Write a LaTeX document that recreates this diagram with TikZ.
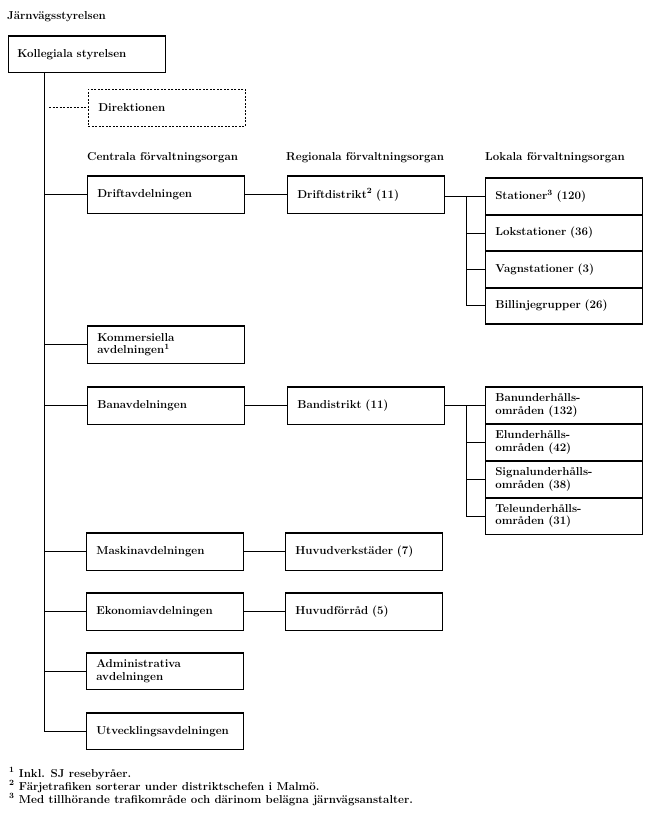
\documentclass[tikz,border=0pt]{standalone}
\usetikzlibrary{calc}
\begin{document}
\begin{tikzpicture}[x=1pt,y=-1pt,
  every node/.style={font=\fontsize{11.5}{12.5}\selectfont\bfseries},
  box/.style={draw, line width=0.6pt, anchor=north west, text width=137pt, inner xsep=10pt, inner ysep=2pt, minimum height=37pt, align=left},
  dbox/.style={box, dashed, dash pattern=on 2pt off 1.5pt},
  lbox/.style={draw, line width=0.6pt, anchor=north west, text width=137pt, inner xsep=10pt, inner ysep=1pt, align=left},
  conn/.style={line width=0.7pt},
  thickedge/.style={line width=1.3pt},
  hdr/.style={anchor=base west, inner sep=0pt},
  fn/.style={anchor=base west, inner sep=0pt}]
\useasboundingbox (0,0) rectangle (650,816);
% title
\node[hdr] (title) at (7,20) {Järnvägsstyrelsen};
\node[box, text width=139pt, inner xsep=9pt, minimum height=36pt] (kol) at (8,36) {Kollegiala styrelsen};
\coordinate (trunk) at (44,72);
\node[dbox] (dir) at (88,89) {Direktionen};
% headers
\node[hdr] (h1) at (87,160) {Centrala förvaltningsorgan};
\node[hdr] (h2) at (286,160) {Regionala förvaltningsorgan};
\node[hdr] (h3) at (485,160) {Lokala förvaltningsorgan};
% central
\node[box] (drift) at (87,176) {Driftavdelningen};
\node[box] (kom) at (87,326) {Kommersiella\\avdelningen\textsuperscript{1}};
\node[box] (ban) at (87,387) {Banavdelningen};
\node[box] (mask) at (86,533) {Maskinavdelningen};
\node[box] (eko) at (86,593) {Ekonomiavdelningen};
\node[box, minimum height=36pt] (adm) at (86,653) {Administrativa\\avdelningen};
\node[box, minimum height=36pt] (utv) at (86,713) {Utvecklingsavdelningen};
% regional
\node[box] (dd) at (287,176) {Driftdistrikt\textsuperscript{2} (11)};
\node[box] (bd) at (287,387) {Bandistrikt (11)};
\node[box] (hv) at (285,533) {Huvudverkstäder (7)};
\node[box] (hf) at (285,593) {Huvudförråd (5)};
% local: drift
\node[lbox, minimum height=36.5pt] (s1) at (485,178) {Stationer\textsuperscript{3} (120)};
\node[lbox, minimum height=36.5pt] (s2) at (485,214.5) {Lokstationer (36)};
\node[lbox, minimum height=36.5pt] (s3) at (485,251) {Vagnstationer (3)};
\node[lbox, minimum height=36pt] (s4) at (485,287.5) {Billinjegrupper (26)};
% local: ban
\node[lbox, minimum height=36.75pt] (b1) at (485,387) {Banunderhålls-\\områden (132)};
\node[lbox, minimum height=36.75pt] (b2) at (485,423.75) {Elunderhålls-\\områden (42)};
\node[lbox, minimum height=36.75pt] (b3) at (485,460.5) {Signalunderhålls-\\områden (38)};
\node[lbox, minimum height=36.75pt] (b4) at (485,497.25) {Teleunderhålls-\\områden (31)};
% thick top/bottom edges
\foreach \n in {kol,drift,kom,ban,mask,eko,adm,utv,dd,bd,hv,hf,s1,s2,s3,s4,b1,b2,b3,b4}
  \draw[thickedge] (\n.north west) -- (\n.north east) (\n.south west) -- (\n.south east);
% trunk and connectors
\draw[conn] (trunk) -- (trunk |- utv.west);
\draw[conn, dashed, dash pattern=on 2pt off 1.5pt] ($(trunk |- dir.west)+(5,0)$) -- (dir.west);
\foreach \n in {drift,kom,ban,mask,eko,adm,utv}
  \draw[conn] (trunk |- \n.west) -- (\n.west);
\draw[conn] (drift.east) -- (dd.west);
\draw[conn] (ban.east) -- (bd.west);
\draw[conn] (mask.east) -- (hv.west);
\draw[conn] (eko.east) -- (hf.west);
% local buses
\coordinate (busd) at (466,0);
\draw[conn] (dd.east |- s1.west) -- (s1.west);
\draw[conn] (busd |- s1.west) -- (busd |- s4.west);
\foreach \n in {s2,s3,s4} \draw[conn] (busd |- \n.west) -- (\n.west);
\draw[conn] (bd.east |- b1.west) -- (b1.west);
\draw[conn] (busd |- b1.west) -- (busd |- b4.west);
\foreach \n in {b2,b3,b4} \draw[conn] (busd |- \n.west) -- (\n.west);
% footnotes
\node[fn] (f1) at (9,777) {\textsuperscript{1} Inkl. SJ resebyråer.};
\node[fn] (f2) at (9,790) {\textsuperscript{2} Färjetrafiken sorterar under distriktschefen i Malmö.};
\node[fn] (f3) at (9,803) {\textsuperscript{3} Med tillhörande trafikområde och därinom belägna järnvägsanstalter.};
\end{tikzpicture}
\end{document}
